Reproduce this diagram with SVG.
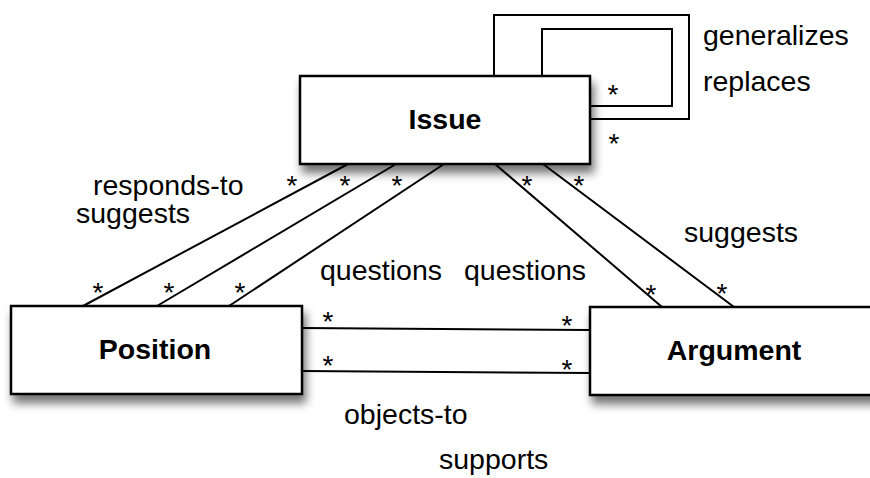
<svg xmlns="http://www.w3.org/2000/svg" width="870" height="478" viewBox="0 0 870 478">
<defs>
<filter id="sh" x="-20%" y="-20%" width="140%" height="160%">
<feDropShadow dx="3" dy="8" stdDeviation="5" flood-color="#000" flood-opacity="0.55"/>
</filter>
<style>
.box{fill:#fff;stroke:#000;stroke-width:2.5;filter:url(#sh)}
.nm{font-family:"Liberation Sans",Arial,sans-serif;font-weight:bold;font-size:28.5px;text-anchor:middle;fill:#000}
.lb{font-family:"Liberation Sans",Arial,sans-serif;font-size:28.5px;fill:#000}
.st{font-family:"Liberation Sans",Arial,sans-serif;font-size:28px;text-anchor:middle;fill:#000}
.ln{fill:none;stroke:#000;stroke-width:2}
</style>
</defs>
<rect width="870" height="478" fill="#fff"/>
<g id="connectors">
<polyline class="ln" points="494,76 494,15 689,15 689,119 590,119"/>
<polyline class="ln" points="542,76 542,29 672,29 672,106 590,106"/>
<line class="ln" x1="348" y1="164" x2="83" y2="306"/>
<line class="ln" x1="396" y1="164" x2="157" y2="306"/>
<line class="ln" x1="444" y1="164" x2="229" y2="306"/>
<line class="ln" x1="495" y1="164" x2="662" y2="307"/>
<line class="ln" x1="543" y1="164" x2="734" y2="307"/>
<line class="ln" x1="302" y1="328" x2="590" y2="330"/>
<line class="ln" x1="302" y1="371" x2="590" y2="373"/>
<text class="st" x="613" y="104">*</text>
<text class="st" x="614" y="153">*</text>
<text class="st" x="292" y="195">*</text>
<text class="st" x="345" y="195">*</text>
<text class="st" x="397" y="195">*</text>
<text class="st" x="527" y="195">*</text>
<text class="st" x="579" y="195">*</text>
<text class="st" x="98" y="302">*</text>
<text class="st" x="169" y="302">*</text>
<text class="st" x="240" y="302">*</text>
<text class="st" x="651" y="304">*</text>
<text class="st" x="722" y="303">*</text>
<text class="st" x="328" y="331">*</text>
<text class="st" x="567" y="335">*</text>
<text class="st" x="328" y="375">*</text>
<text class="st" x="567" y="379">*</text>
<text class="lb" x="703" y="45">generalizes</text>
<text class="lb" x="703" y="91">replaces</text>
<text class="lb" x="93" y="195">responds-to</text>
<text class="lb" x="76" y="223">suggests</text>
<text class="lb" x="320" y="280">questions</text>
<text class="lb" x="464" y="280">questions</text>
<text class="lb" x="684" y="242">suggests</text>
<text class="lb" x="344" y="424">objects-to</text>
<text class="lb" x="439" y="469">supports</text>
</g>
<g id="issue">
<rect class="box" x="300" y="76" width="290" height="88"/>
<text class="nm" x="445" y="129">Issue</text>
</g>
<g id="position">
<rect class="box" x="11" y="306" width="291" height="88"/>
<text class="nm" x="155" y="359">Position</text>
</g>
<g id="argument">
<rect class="box" x="590" y="307" width="290" height="88"/>
<text class="nm" x="734" y="360">Argument</text>
</g>
</svg>
